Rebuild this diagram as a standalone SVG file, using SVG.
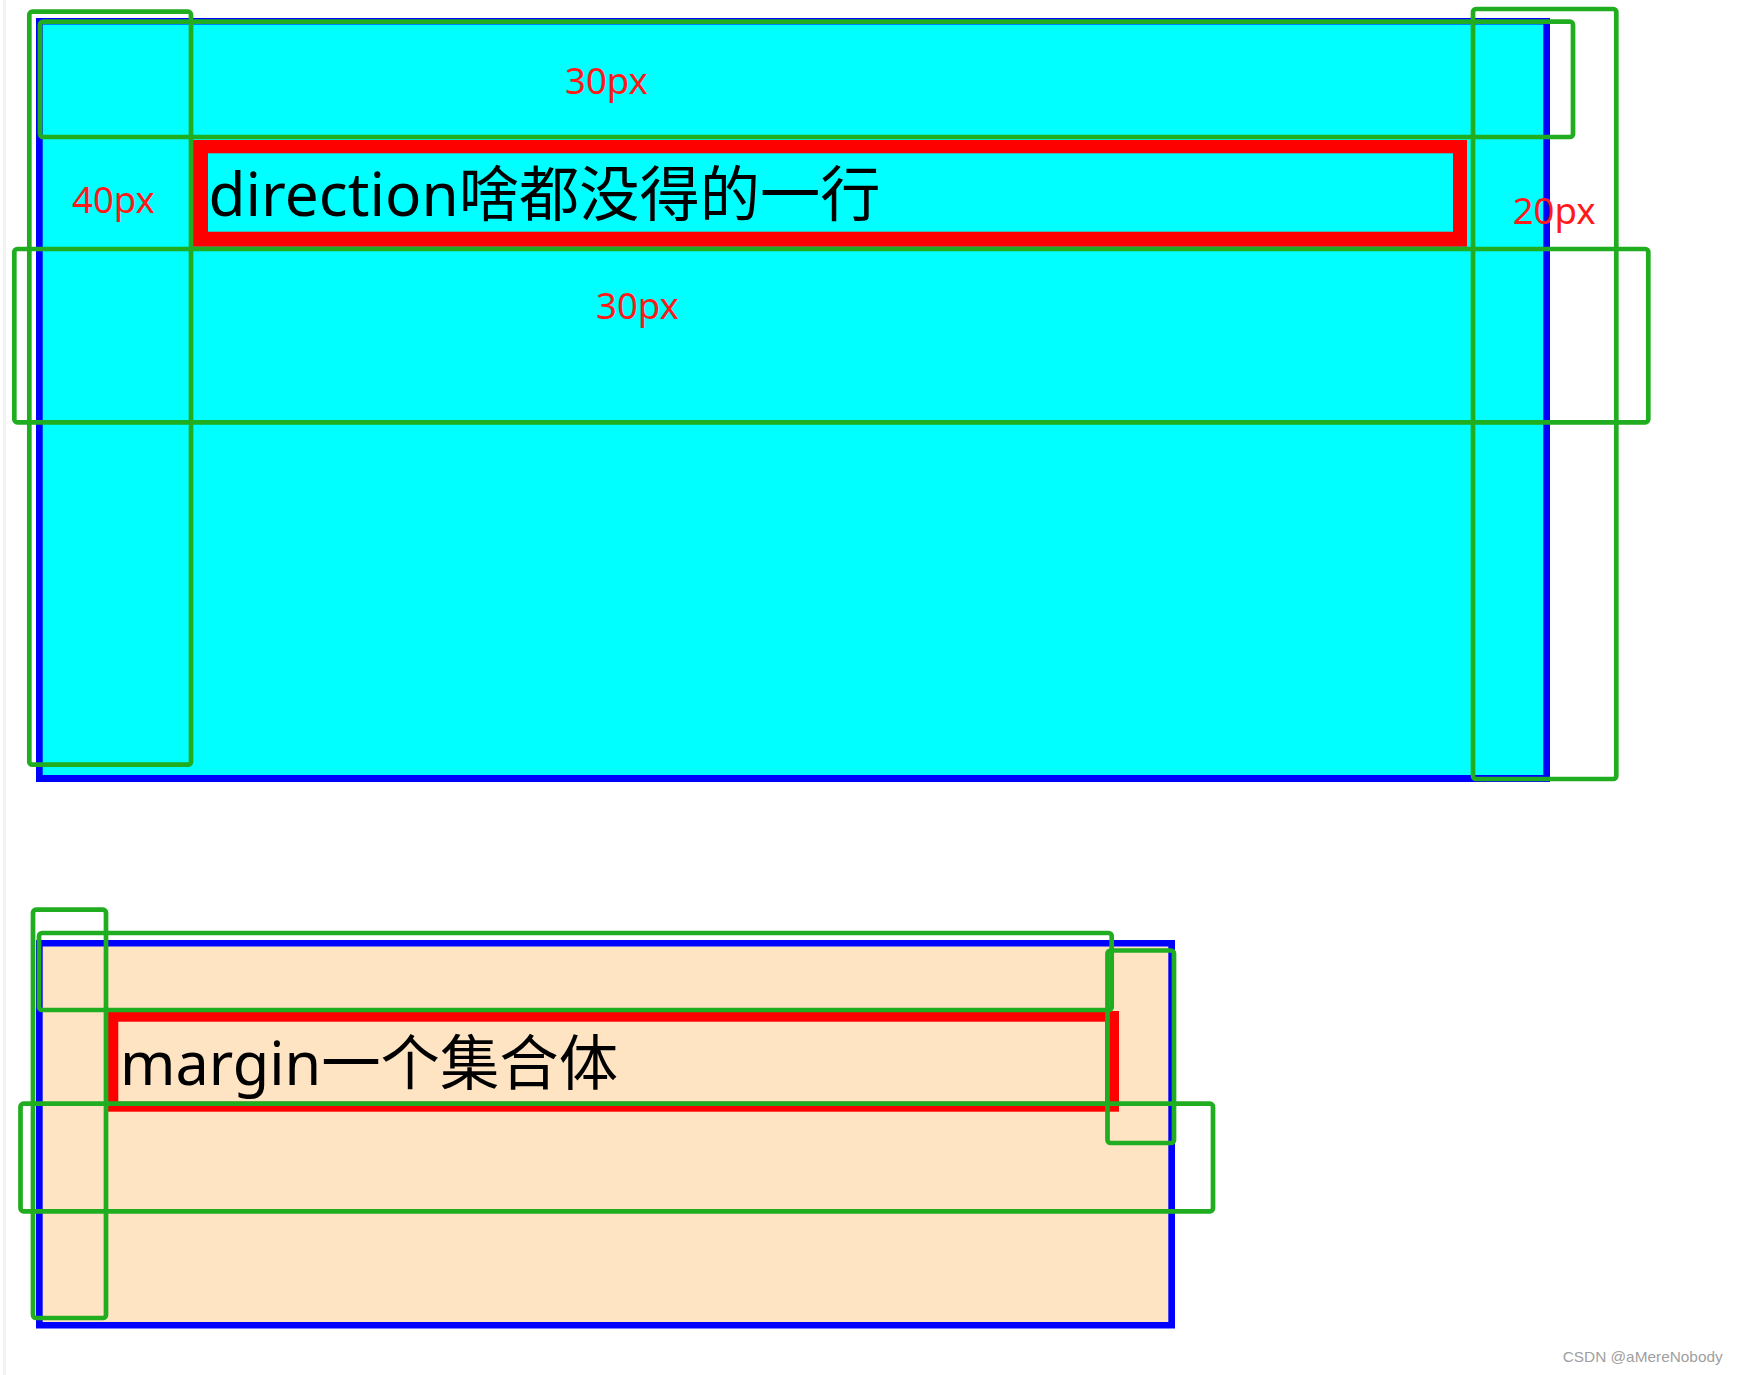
<svg xmlns="http://www.w3.org/2000/svg" width="1741" height="1375" viewBox="0 0 1741 1375">
<style>
.border{fill:#0000ff}
.redb{fill:#ff0000}
.main{font-family:"Noto Sans","Noto Sans CJK SC",sans-serif;font-size:60px;fill:#000}
.lbl{font-family:"Noto Sans","Noto Sans CJK SC",sans-serif;font-size:36.5px;fill:#ff1a1a}
.g{fill:none;stroke:#20ad20;stroke-width:4.7}
.wm{font-family:"Liberation Sans",Arial,sans-serif;font-size:15px;fill:#a0a0a0}
</style>
<rect x="0" y="0" width="1741" height="1375" fill="#ffffff"/>
<rect x="3" y="0" width="3" height="1375" fill="#f2f2f2"/>

<g id="box-direction">
  <rect class="border" x="36" y="18" width="1514" height="764"/>
  <rect x="42.7" y="24.5" width="1500.6" height="750.5" fill="#00ffff"/>
</g>
<g id="item-direction">
  <rect class="redb" x="190" y="140" width="1277" height="106.7"/>
  <rect x="208" y="153.3" width="1245" height="78.4" fill="#00ffff"/>
  <text class="main" x="208.5" y="216" textLength="672" lengthAdjust="spacingAndGlyphs">direction啥都没得的一行</text>
</g>

<g id="box-margin">
  <rect class="border" x="36" y="940" width="1139" height="388.5"/>
  <rect x="42.7" y="946.5" width="1125.6" height="375.5" fill="#ffe4c4"/>
</g>
<g id="item-margin">
  <rect class="redb" x="106" y="1011" width="1013" height="100.7"/>
  <rect x="118.3" y="1021.7" width="986.7" height="80" fill="#ffe4c4"/>
  <text class="main" x="120" y="1085" textLength="498" lengthAdjust="spacingAndGlyphs">margin一个集合体</text>
</g>

<g id="margin-guides">
  <rect class="g" x="29.3" y="11.7" width="161.7" height="753" rx="3"/>
  <rect class="g" x="40" y="21.7" width="1533" height="115.3" rx="3"/>
  <rect class="g" x="1473" y="9" width="143.3" height="770" rx="3"/>
  <rect class="g" x="14.3" y="249" width="1634" height="173.3" rx="3"/>
  <rect class="g" x="33" y="909.7" width="73" height="408.3" rx="3"/>
  <rect class="g" x="39" y="933" width="1072.7" height="77" rx="3"/>
  <rect class="g" x="1107.5" y="950.5" width="66.5" height="192.5" rx="3"/>
  <rect class="g" x="20.5" y="1103.7" width="1192.5" height="107.6" rx="3"/>
</g>

<g id="labels">
  <text class="lbl" x="565" y="93.5">30px</text>
  <text class="lbl" x="72" y="213.3">40px</text>
  <text class="lbl" x="1512.7" y="224">20px</text>
  <text class="lbl" x="596" y="318.6">30px</text>
</g>

<g id="connectors"></g>

<text class="wm" x="1562.7" y="1361.7" textLength="160" lengthAdjust="spacingAndGlyphs">CSDN @aMereNobody</text>
</svg>
